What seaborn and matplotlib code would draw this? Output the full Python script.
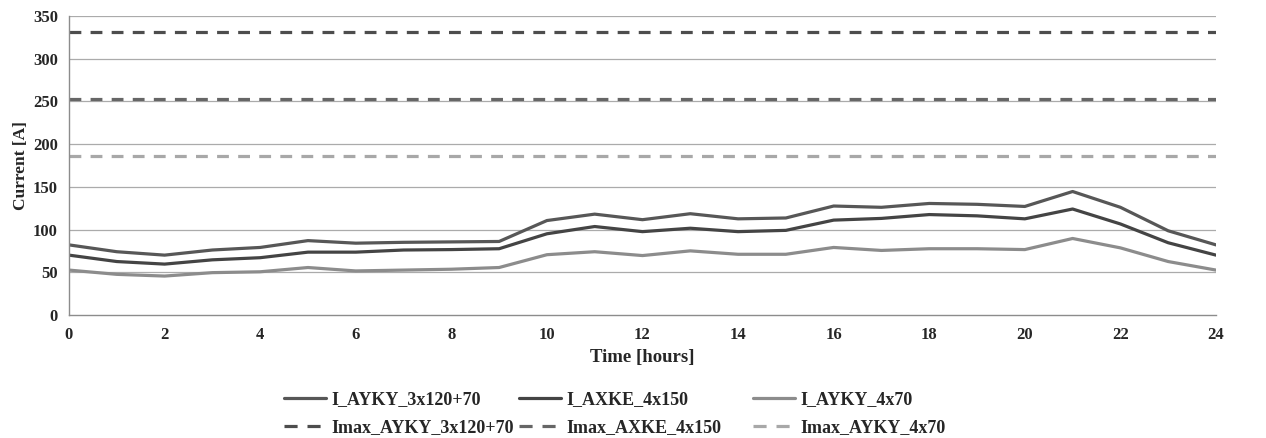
import pandas as pd
import matplotlib.pyplot as plt
import seaborn as sns
import numpy as np

hours = list(range(25))
i_ayky_3x120 = [82, 74, 70, 76, 79, 87, 84, 85, 85.5, 86, 110.5, 118, 111.5, 118.5, 112.5, 113.5,
                127.5, 126, 130.5, 129.5, 127, 144.5, 126, 98.5, 82]
i_axke_4x150 = [70, 62.5, 59.5, 64.5, 67, 73.5, 73.5, 76, 76.5, 77.5, 95, 103.5, 97.5, 101.5, 97.5, 99,
                111, 113, 117.5, 116, 112.5, 124, 106.5, 84.5, 70]
i_ayky_4x70 = [52.5, 47.5, 45.5, 49.5, 50.5, 55.5, 51.5, 52.5, 53.5, 55.5, 70.5, 74, 69.5, 75, 71, 71,
               79, 75.5, 77.5, 77.5, 76.5, 89.5, 78.5, 62.5, 52.5]
imax_names = ["Imax_AYKY_3x120+70", "Imax_AXKE_4x150", "Imax_AYKY_4x70"]
imax_values = [331, 253, 186]

names = ["I_AYKY_3x120+70", "I_AXKE_4x150", "I_AYKY_4x70"]
colors = ["#575757", "#444444", "#8c8c8c"]
dash_colors = ["#4d4d4d", "#666666", "#a8a8a8"]

df = pd.DataFrame({"hour": hours * 3,
                   "current": i_ayky_3x120 + i_axke_4x150 + i_ayky_4x70,
                   "series": [n for n in names for _ in hours]})

sns.set_style("white")
plt.rcParams['font.family'] = ['Liberation Serif', 'DejaVu Serif']
plt.rcParams['font.weight'] = 'bold'

fig = plt.figure(figsize=(12.66, 4.38), dpi=100)
ax = fig.add_axes([0.0545, 0.281, 0.906, 0.6825])

# horizontal grid
for y in range(50, 351, 50):
    ax.axhline(y, color="#ababab", linewidth=0.9, zorder=0)

sns.lineplot(data=df, x="hour", y="current", hue="series", palette=dict(zip(names, colors)),
             linewidth=2.3, ax=ax, legend=False)

for val, c in zip(imax_values, dash_colors):
    ax.axhline(val, color=c, linewidth=2.3, dashes=(3.7, 2.9), zorder=1)

ax.set_xlim(0, 24)
ax.set_ylim(0, 350)
ax.set_xticks(range(0, 25, 2))
ax.set_yticks(range(0, 351, 50))
ax.tick_params(axis='both', labelsize=12, length=4, color="#8c8c8c", direction='out', width=1)
ax.tick_params(axis='x', pad=5)
ax.tick_params(axis='y', pad=4)
for lab in ax.get_xticklabels() + ax.get_yticklabels():
    lab.set_fontweight('bold')
for s in ["top", "right"]:
    ax.spines[s].set_visible(False)
for s in ["left", "bottom"]:
    ax.spines[s].set_color("#8c8c8c")
    ax.spines[s].set_linewidth(1)

ax.set_xlabel("Time [hours]", fontsize=13.5, fontweight='bold', labelpad=4)
ax.set_ylabel("Current [A]", fontsize=12.5, fontweight='bold', labelpad=3)

# legend: three fixed-width columns like the original
col_x = [284, 519, 753]
for i in range(3):
    h = [plt.Line2D([], [], color=colors[i], linewidth=2.3),
         plt.Line2D([], [], color=dash_colors[i], linewidth=2.3, dashes=(4.1, 3.1))]
    fig.legend(h, [names[i], imax_names[i]], loc='upper left',
               bbox_to_anchor=(col_x[i] / 1266, 1 - 391 / 438), frameon=False,
               prop={'size': 13, 'weight': 'bold'}, handlelength=2.3, handletextpad=0.35,
               labelspacing=0.62, borderpad=0.0, borderaxespad=0.0)

fig.savefig("out.png", dpi=100)
